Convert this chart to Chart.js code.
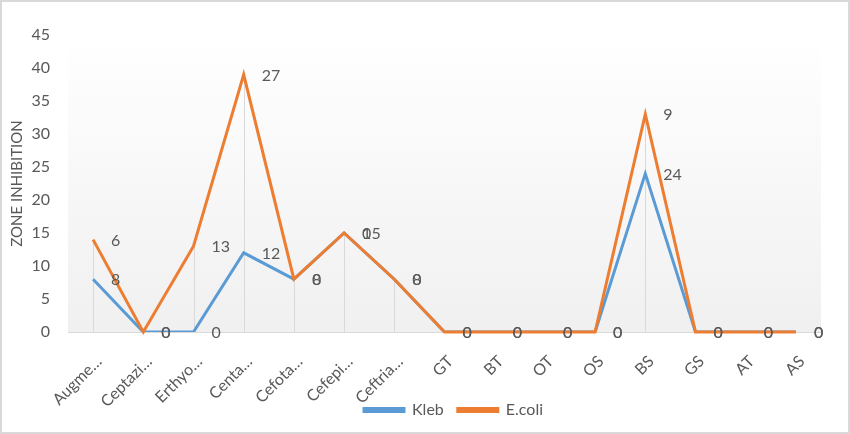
<!DOCTYPE html>
<html>
<head>
<meta charset="utf-8">
<script src="https://cdn.jsdelivr.net/npm/chart.js@4"></script>
<style>
  html, body { margin: 0; padding: 0; background: #ffffff; }
  #wrap { position: relative; width: 850px; height: 434px; }
</style>
</head>
<body>
<div id="wrap"><canvas id="chartZone"></canvas></div>
<script>
// ===== ZONE INHIBITION - stacked line chart =====

const categories = ['Augme…', 'Ceptazi…', 'Erthyo…', 'Centa…', 'Cefota…', 'Cefepi…', 'Ceftria…',
  'GT', 'BT', 'OT', 'OS', 'BS', 'GS', 'AT', 'AS'];
const klebValues = [8, 0, 0, 12, 8, 15, 8, 0, 0, 0, 0, 24, 0, 0, 0];
const ecoliValues = [6, 0, 13, 27, 0, 0, 0, 0, 0, 0, 0, 9, 0, 0, 0];
const yMin = 0;
const yMax = 45;
const yStep = 5;

const TEXT = '#595959';
const FONT = "Lato, 'Open Sans', sans-serif";
const COLORS = {
  blue: '#5b9bd5',
  orange: '#ed7d31',
  grid: '#d9d9d9',
};

// frame + plot area gradient
const backdrop = {
  id: 'backdrop',
  afterLayout(chart) {
    // let the rotated category labels run down past the legend line, as in the original
    const s = chart.scales.x;
    s.bottom = chart.height;
    s.height = s.bottom - s.top;
    // legend sits a little right of centre
    chart.legend.left += 43;
    chart.legend.right += 43;
  },
  beforeDraw(chart) {
    const { ctx, chartArea: a } = chart;
    ctx.save();
    ctx.fillStyle = '#ffffff';
    ctx.fillRect(0, 0, chart.width, chart.height);
    const g = ctx.createLinearGradient(0, a.top, 0, a.bottom);
    g.addColorStop(0, '#ffffff');
    g.addColorStop(1, '#f0f0f0');
    ctx.fillStyle = g;
    ctx.fillRect(a.left, a.top, a.right - a.left, a.bottom - a.top);
    ctx.restore();
  },
  afterDraw(chart) {
    const { ctx } = chart;
    ctx.save();
    ctx.strokeStyle = COLORS.grid;
    ctx.lineWidth = 2;
    ctx.strokeRect(1, 1, chart.width - 2, chart.height - 2);
    ctx.restore();
  }
};

// drop lines from the highest point to the axis
const dropLines = {
  id: 'dropLines',
  beforeDatasetsDraw(chart) {
    const { ctx, chartArea: a } = chart;
    const metas = chart.getSortedVisibleDatasetMetas();
    ctx.save();
    ctx.strokeStyle = COLORS.grid;
    ctx.lineWidth = 1;
    categories.forEach((c, i) => {
      let top = a.bottom;
      let x = null;
      metas.forEach(m => {
        const el = m.data[i];
        if (!el) return;
        x = el.x;
        top = Math.min(top, el.y);
      });
      if (x === null || top >= a.bottom) return;
      const px = Math.round(x) + 0.5;
      ctx.beginPath();
      ctx.moveTo(px, top);
      ctx.lineTo(px, a.bottom);
      ctx.stroke();
    });
    ctx.restore();
  }
};

// E.coli line is painted over Kleb (stacking still follows dataset order)
const ecoliOnTop = {
  id: 'ecoliOnTop',
  beforeDatasetDraw(chart, args) {
    if (args.index === 1) return false;
  },
  afterDatasetsDraw(chart) {
    const { ctx, chartArea: a } = chart;
    const meta = chart.getDatasetMeta(1);
    ctx.save();
    ctx.beginPath();
    ctx.rect(a.left - 5, a.top - 5, a.right - a.left + 10, a.bottom - a.top + 10);
    ctx.clip();
    meta.controller.draw();
    ctx.restore();
  }
};

// value labels to the right of each point
const valueLabels = {
  id: 'valueLabels',
  afterDatasetsDraw(chart) {
    const { ctx } = chart;
    ctx.save();
    ctx.fillStyle = TEXT;
    ctx.font = '16px ' + FONT;
    ctx.textAlign = 'left';
    ctx.textBaseline = 'middle';
    chart.data.datasets.forEach((ds, d) => {
      const meta = chart.getDatasetMeta(d);
      meta.data.forEach((el, i) => {
        ctx.fillText(String(ds.data[i]), el.x + 18, el.y + 1);
      });
    });
    ctx.restore();
  }
};

const ctxZone = document.getElementById('chartZone');
new Chart(ctxZone, {
  type: 'line',
  data: {
    labels: categories,
    datasets: [
      {
        label: 'Kleb',
        data: klebValues,
        borderColor: COLORS.blue,
        backgroundColor: COLORS.blue,
        borderWidth: 3,
        pointRadius: 0,
        tension: 0,
        fill: false,
      },
      {
        label: 'E.coli',
        data: ecoliValues,
        borderColor: COLORS.orange,
        backgroundColor: COLORS.orange,
        borderWidth: 3,
        pointRadius: 0,
        tension: 0,
        fill: false,
      }
    ]
  },
  options: {
    responsive: true,
    maintainAspectRatio: false,
    animation: false,
    layout: { padding: { top: 35, right: 29, bottom: 6, left: 0 } },
    plugins: {
      tooltip: { enabled: false },
      legend: {
        position: 'bottom',
        labels: {
          color: TEXT,
          font: { family: FONT, size: 16 },
          boxWidth: 40,
          boxHeight: 3,
          padding: 14,
        }
      }
    },
    scales: {
      x: {
        offset: true,
        grid: { display: false },
        border: { display: true, color: COLORS.grid, width: 1 },
        ticks: {
          color: TEXT,
          font: { family: FONT, size: 16 },
          minRotation: 45,
          maxRotation: 45,
          autoSkip: false,
          padding: 12,
          labelOffset: 6,
        },
        afterFit(scale) { scale.height = 56; }
      },
      y: {
        stacked: true,
        min: yMin,
        max: yMax,
        grid: { display: false, drawTicks: false },
        border: { display: false },
        ticks: {
          stepSize: yStep,
          color: TEXT,
          font: { family: FONT, size: 16 },
          padding: 18,
        },
        title: {
          display: true,
          text: 'ZONE INHIBITION',
          color: TEXT,
          font: { family: FONT, size: 15 },
          padding: { top: 8, bottom: 0 },
        },
        afterFit(scale) { scale.width = 68; }
      }
    }
  },
  plugins: [backdrop, dropLines, ecoliOnTop, valueLabels]
});
</script>
</body>
</html>
